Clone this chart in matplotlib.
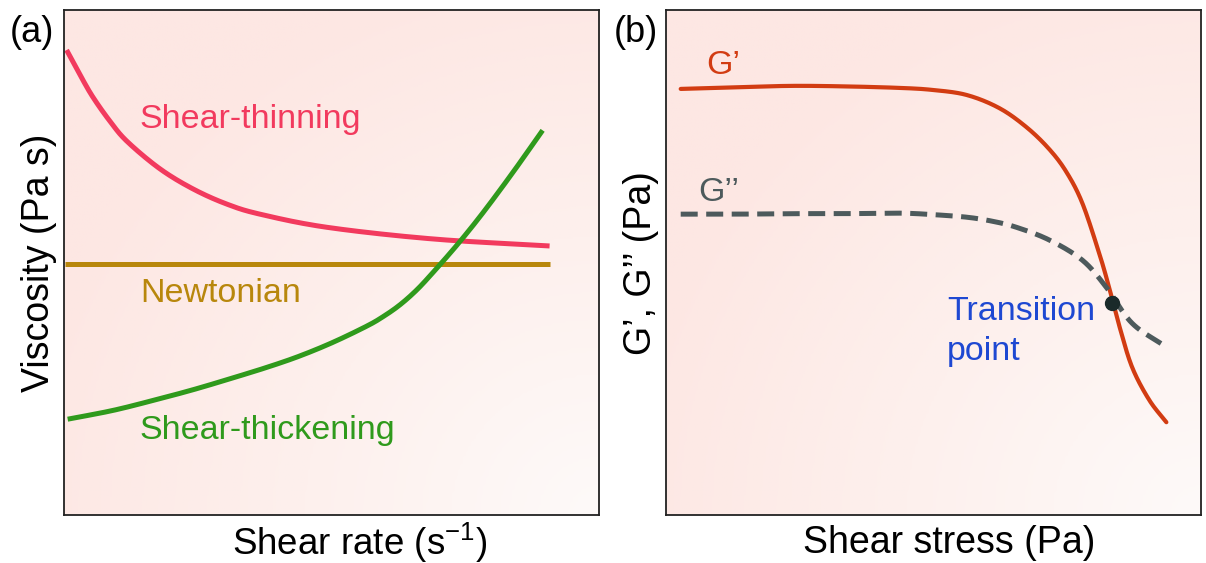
import numpy as np
import matplotlib
matplotlib.use("Agg")
import matplotlib.pyplot as plt
from matplotlib.colors import LinearSegmentedColormap

plt.rcParams['font.family'] = ['Liberation Sans', 'DejaVu Sans']
plt.rcParams['mathtext.fontset'] = 'custom'
plt.rcParams['mathtext.rm'] = 'Liberation Sans'
plt.rcParams['mathtext.it'] = 'Liberation Sans'

# panel (a): viscosity vs shear rate (arbitrary units)
thin_x = [0.05, 0.30, 0.54, 0.86, 1.18, 1.79, 2.41, 3.04, 3.66, 4.91, 6.88, 9.07]
thin_y = [9.21, 8.72, 8.28, 7.80, 7.40, 6.86, 6.46, 6.16, 5.96, 5.70, 5.47, 5.33]
newt_x = [0.02, 9.07]
newt_y = [4.98, 4.98]
thick_x = [0.07, 0.90, 1.66, 2.40, 3.10, 3.80, 4.40, 5.02, 5.65, 5.96, 6.27, 6.58, 6.88, 7.35, 7.82, 8.38, 8.94]
thick_y = [1.90, 2.07, 2.27, 2.48, 2.70, 2.93, 3.15, 3.42, 3.74, 3.93, 4.16, 4.45, 4.79, 5.36, 5.98, 6.78, 7.62]

# panel (b): moduli vs shear stress
gp_x = [0.28, 1.30, 2.33, 3.35, 4.37, 4.98, 5.62, 6.23, 6.74, 7.16, 7.48, 7.78, 8.10, 8.28, 8.47, 8.71, 9.03, 9.35]
gp_y = [8.44, 8.47, 8.50, 8.49, 8.46, 8.42, 8.32, 8.06, 7.68, 7.25, 6.80, 6.18, 5.17, 4.51, 3.75, 2.93, 2.28, 1.84]
gpp_x = [0.28, 1.30, 2.30, 3.35, 4.37, 5.00, 5.62, 6.10, 6.55, 7.16, 7.78, 8.23, 8.71, 9.35]
gpp_y = [5.96, 5.96, 5.97, 5.97, 5.98, 5.95, 5.90, 5.82, 5.70, 5.45, 5.05, 4.51, 3.80, 3.33]
trans_x = [8.34]
trans_y = [4.20]


def smooth(xs, ys, n=24):
    # catmull-rom through the read points, just so the lines are not jagged
    p = np.column_stack([xs, ys]).astype(float)
    p = np.vstack([2 * p[0] - p[1], p, 2 * p[-1] - p[-2]])
    t = np.linspace(0, 1, n, endpoint=False)[:, None]
    out = []
    for i in range(1, len(p) - 2):
        p0, p1, p2, p3 = p[i - 1], p[i], p[i + 1], p[i + 2]
        out.append(0.5 * (2 * p1 + (-p0 + p2) * t + (2 * p0 - 5 * p1 + 4 * p2 - p3) * t ** 2
                          + (-p0 + 3 * p1 - 3 * p2 + p3) * t ** 3))
    out.append(p[-2][None, :])
    out = np.vstack(out)
    return out[:, 0], out[:, 1]


bg = LinearSegmentedColormap.from_list("bg", ["#fefaf9", "#fdf0ed", "#fde7e3"])
gx, gy = np.meshgrid(np.linspace(0, 1, 200), np.linspace(0, 1, 200))
grad = np.clip(np.hypot(1 - gx, gy) / 1.1, 0, 1)


def panel(ax):
    ax.imshow(grad, cmap=bg, extent=[0, 1, 0, 1], transform=ax.transAxes, origin='lower',
              aspect='auto', zorder=0, vmin=0, vmax=1)
    ax.set_xlim(0, 10)
    ax.set_ylim(0, 10)
    ax.set_xticks([])
    ax.set_yticks([])
    for s in ax.spines.values():
        s.set_linewidth(1.3)
        s.set_color("#222222")


fig = plt.figure(figsize=(12.06, 5.63), dpi=100)
ax1 = fig.add_axes([0.053, 0.085, 0.444, 0.897])
ax2 = fig.add_axes([0.552, 0.085, 0.444, 0.897])
panel(ax1)
panel(ax2)

lw = 3.6
fs = 24.5
ax1.plot(*smooth(thin_x, thin_y), color="#f23a5e", lw=lw, solid_capstyle='butt')
ax1.plot(newt_x, newt_y, color="#b8870c", lw=lw, solid_capstyle='butt')
ax1.plot(*smooth(thick_x, thick_y), color="#2f9a1c", lw=lw, solid_capstyle='butt')
ax1.text(1.42, 7.67, "Shear-thinning", color="#f23a5e", fontsize=fs, va='baseline')
ax1.text(1.42, 4.22, "Newtonian", color="#b8870c", fontsize=fs, va='baseline')
ax1.text(1.42, 1.50, "Shear-thickening", color="#2f9a1c", fontsize=fs, va='baseline')
ax1.set_ylabel("Viscosity (Pa s)", fontsize=27)
ax1.yaxis.set_label_coords(-0.013, 0.5)
ax1.set_xlabel(r"Shear rate (s$^{-1}$)", fontsize=26.5)
ax1.xaxis.set_label_coords(0.553, -0.055)
ax1.xaxis.label.set_va('center')

ax2.plot(*smooth(gp_x, gp_y), color="#d23c12", lw=3.0, solid_capstyle='round')
ax2.plot(*smooth(gpp_x, gpp_y), color="#4d5a5c", lw=3.6, dashes=(3.4, 1.7), dash_capstyle='butt')
ax2.plot(trans_x, trans_y, 'o', color="#1a2a2a", ms=10, zorder=5)
ax2.text(0.75, 8.73, "G\u2019", color="#d23c12", fontsize=fs, va='baseline')
ax2.text(0.6, 6.22, "G\u2019\u2019", color="#4d5a5c", fontsize=fs, va='baseline')
ax2.text(5.25, 3.86, "Transition", color="#1e48d2", fontsize=fs, va='baseline')
ax2.text(5.25, 3.07, "point", color="#1e48d2", fontsize=fs, va='baseline')
ax2.set_ylabel("G\u2019, G\u2019\u2019 (Pa)", fontsize=27)
ax2.yaxis.set_label_coords(-0.013, 0.5)
ax2.set_xlabel("Shear stress (Pa)", fontsize=27)
ax2.xaxis.set_label_coords(0.53, -0.055)
ax2.xaxis.label.set_va('center')

fig.text(0.008, 0.943, "(a)", fontsize=26, va='center')
fig.text(0.509, 0.943, "(b)", fontsize=26, va='center')

fig.savefig("out.png", dpi=100)
